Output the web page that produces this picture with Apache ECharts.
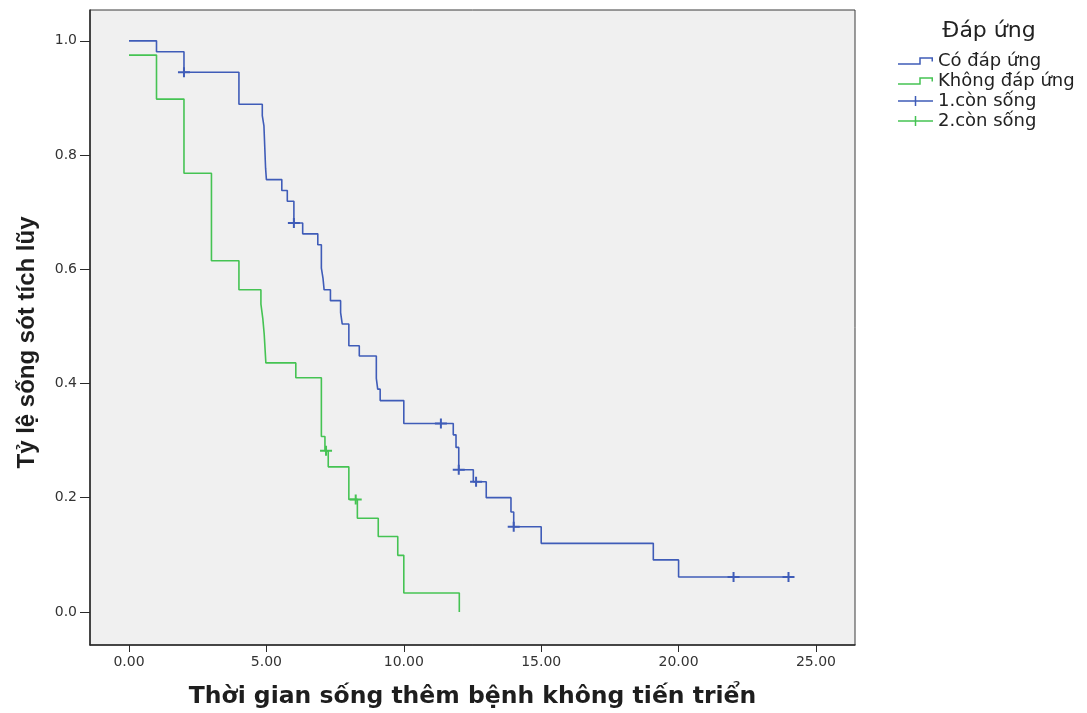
<!DOCTYPE html>
<html>
<head>
<meta charset="utf-8">
<script src="https://cdn.jsdelivr.net/npm/echarts@6/dist/echarts.min.js"></script>
<style>
  html, body { margin: 0; padding: 0; background: #ffffff; }
  #chart { width: 1087px; height: 713px; }
</style>
</head>
<body>
<div id="chart"></div>
<script>
// Kaplan–Meier estimates: event times (months) and cumulative survival after each drop
const respondName = 'Có đáp ứng';
const respondTimes = [0, 1.0, 2.0, 4.0, 4.85, 4.91, 4.97, 5.0, 5.56, 5.76, 6.0, 6.32, 6.87, 7.0, 7.06, 7.1, 7.33, 7.7, 7.76, 8.0, 8.38, 9.0, 9.05, 9.14, 10.0, 11.8, 11.9, 12.0, 12.53, 13.0, 13.9, 14.0, 15.0, 19.08, 20.0, 24.05];
const respondSurv  = [1.0, 0.981, 0.945, 0.889, 0.869, 0.851, 0.777, 0.757, 0.738, 0.719, 0.681, 0.662, 0.643, 0.602, 0.584, 0.564, 0.545, 0.524, 0.504, 0.466, 0.448, 0.409, 0.390, 0.370, 0.330, 0.310, 0.288, 0.249, 0.228, 0.200, 0.175, 0.149, 0.120, 0.091, 0.061, 0.061];

const nonRespondName = 'Không đáp ứng';
const nonRespondTimes = [0, 1.0, 2.0, 3.0, 4.0, 4.8, 4.87, 4.92, 4.98, 6.07, 7.0, 7.13, 7.25, 8.0, 8.31, 9.07, 9.78, 10.0, 12.02];
const nonRespondSurv  = [0.975, 0.898, 0.768, 0.615, 0.564, 0.539, 0.513, 0.486, 0.436, 0.410, 0.307, 0.282, 0.254, 0.197, 0.164, 0.132, 0.099, 0.033, 0.0];

// Censored observations (still alive)
const respondCensorName = '1.còn sống';
const respondCensorTimes = [2.0, 6.0, 11.35, 12.0, 12.63, 14.0, 22.0, 24.0];
const respondCensorSurv  = [0.945, 0.681, 0.330, 0.249, 0.228, 0.149, 0.061, 0.061];

const nonRespondCensorName = '2.còn sống';
const nonRespondCensorTimes = [7.17, 8.25];
const nonRespondCensorSurv  = [0.282, 0.197];

// Axis ticks
const xTicks = [0, 5, 10, 15, 20, 25];
const yTicks = [0, 0.2, 0.4, 0.6, 0.8, 1.0];

const legendTitle = 'Đáp ứng';
const xAxisTitle = 'Thời gian sống thêm bệnh không tiến triển';
const yAxisTitle = 'Tỷ lệ sống sót tích lũy';

const BLUE = '#3f5cb8';
const GREEN = '#45c353';
const SANS = '"DejaVu Sans", "Liberation Sans", Arial, sans-serif';
const ARIAL = '"Liberation Sans", Arial, sans-serif';

const zip = (a, b) => a.map((v, i) => [v, b[i]]);

// small "+" marker for censored cases
const PLUS = 'path://M0,4H12V6H0Z M5,0H7V10H5Z';
// legend glyphs: a step line and a line crossed by a "+"
const STEP_ICON = 'path://M0,7.25H21.25V1.25H35V5.5H33.5V2.75H22.75V8.75H0Z';
const PLUS_ICON = 'path://M0,4.25H35V5.75H0Z M16.75,0H18.25V10H16.75Z';

const chart = echarts.init(document.getElementById('chart'), null, { renderer: 'canvas' });

const axisCommon = {
  type: 'value',
  splitLine: { show: false },
  axisLine: { show: true, onZero: false, lineStyle: { color: '#2a2a2a', width: 1.5 } },
  nameLocation: 'middle'
};

chart.setOption({
  animation: false,
  backgroundColor: '#ffffff',
  textStyle: { fontFamily: SANS },
  title: {
    text: legendTitle,
    left: 989,
    top: 20,
    padding: 0,
    textAlign: 'center',
    textStyle: { fontFamily: SANS, fontSize: 22, fontWeight: 'normal', color: '#222' }
  },
  legend: {
    orient: 'vertical',
    left: 898,
    top: 52,
    padding: 0,
    itemWidth: 35,
    itemHeight: 10,
    itemGap: 2,
    symbolKeepAspect: true,
    itemStyle: { borderWidth: 0 },
    textStyle: { fontFamily: SANS, fontSize: 18, color: '#222' },
    data: [
      { name: respondName, icon: STEP_ICON },
      { name: nonRespondName, icon: STEP_ICON },
      { name: respondCensorName, icon: PLUS_ICON },
      { name: nonRespondCensorName, icon: PLUS_ICON }
    ]
  },
  grid: {
    left: 90, top: 10, width: 765, height: 635,
    outerBoundsMode: 'none',
    show: true,
    backgroundColor: '#f0f0f0',
    borderColor: '#3a3a3a',
    borderWidth: 1
  },
  xAxis: Object.assign({}, axisCommon, {
    min: -1.42,
    max: 26.42,
    name: xAxisTitle,
    nameGap: 40,
    nameTextStyle: { fontFamily: SANS, fontWeight: 'bold', fontSize: 23.5, color: '#1e1e1e' },
    axisTick: { show: true, length: 7, customValues: xTicks, lineStyle: { color: '#2a2a2a' } },
    axisLabel: {
      customValues: xTicks,
      formatter: v => v.toFixed(2),
      fontFamily: SANS, fontSize: 14, color: '#333', margin: 10
    }
  }),
  yAxis: Object.assign({}, axisCommon, {
    min: -0.058,
    max: 1.054,
    name: yAxisTitle,
    nameGap: 51,
    nameRotate: 90,
    nameTextStyle: {
      fontFamily: ARIAL, fontWeight: 'bold', fontSize: 24, color: '#1e1e1e',
      padding: [0, 30, 0, 0]
    },
    axisTick: { show: true, length: 10, customValues: yTicks, lineStyle: { color: '#2a2a2a' } },
    axisLabel: {
      customValues: yTicks,
      formatter: v => v.toFixed(1),
      fontFamily: SANS, fontSize: 14, color: '#333', margin: 13
    }
  }),
  series: [
    {
      name: respondName, type: 'line', step: 'end', symbol: 'none',
      data: zip(respondTimes, respondSurv),
      lineStyle: { color: BLUE, width: 1.6 }, itemStyle: { color: BLUE }, z: 3
    },
    {
      name: nonRespondName, type: 'line', step: 'end', symbol: 'none',
      data: zip(nonRespondTimes, nonRespondSurv),
      lineStyle: { color: GREEN, width: 1.6 }, itemStyle: { color: GREEN }, z: 2
    },
    {
      name: respondCensorName, type: 'scatter', symbol: PLUS, symbolSize: [12, 10],
      data: zip(respondCensorTimes, respondCensorSurv),
      itemStyle: { color: BLUE, opacity: 1 }, z: 4
    },
    {
      name: nonRespondCensorName, type: 'scatter', symbol: PLUS, symbolSize: [12, 10],
      data: zip(nonRespondCensorTimes, nonRespondCensorSurv),
      itemStyle: { color: GREEN, opacity: 1 }, z: 4
    }
  ]
});
</script>
</body>
</html>
